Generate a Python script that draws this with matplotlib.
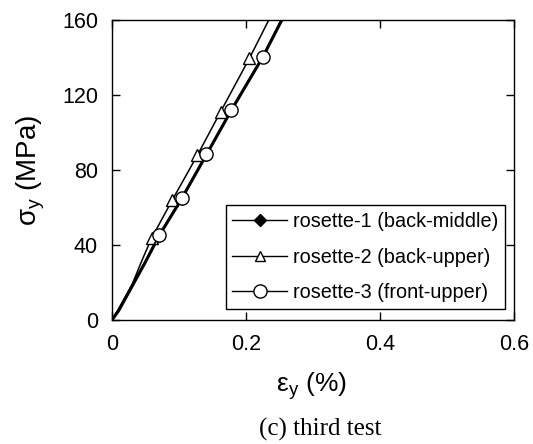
import matplotlib
matplotlib.use("Agg")
import matplotlib.pyplot as plt

plt.rcParams['font.family'] = ['Liberation Sans', 'DejaVu Sans']
plt.rcParams['mathtext.fontset'] = 'custom'
plt.rcParams['mathtext.rm'] = 'Liberation Sans'
plt.rcParams['mathtext.it'] = 'Liberation Sans'

# rosette-1 (back-middle): line data
r1_strain = [0.0, 0.01, 0.03, 0.05, 0.0704, 0.104, 0.141, 0.178, 0.225, 0.2535]
r1_stress = [0.0, 5.0, 18.0, 31.0, 45.0, 64.7, 88.2, 111.8, 140.2, 160.0]
# rosette-1 marker positions (hidden under circles)
r1_mk_strain = [0.0704, 0.104, 0.141, 0.178, 0.225]
r1_mk_stress = [45.0, 64.7, 88.2, 111.8, 140.2]

# rosette-2 (back-upper)
r2_strain = [0.0, 0.01, 0.03, 0.045, 0.059, 0.090, 0.1276, 0.162, 0.205, 0.234]
r2_stress = [0.0, 6.0, 19.0, 32.0, 43.6, 64.0, 88.0, 111.0, 139.5, 160.0]
r2_mk_strain = [0.059, 0.090, 0.1276, 0.162, 0.205]
r2_mk_stress = [43.6, 64.0, 88.0, 111.0, 139.5]

# rosette-3 (front-upper)
r3_strain = [0.0, 0.01, 0.03, 0.05, 0.0704, 0.1038, 0.141, 0.178, 0.225, 0.2526]
r3_stress = [0.0, 5.5, 18.5, 31.5, 45.3, 64.9, 88.4, 112.0, 140.4, 160.0]
r3_mk_strain = [0.0704, 0.1038, 0.141, 0.178, 0.225]
r3_mk_stress = [45.3, 64.9, 88.4, 112.0, 140.4]

x_ticks = [0, 0.2, 0.4, 0.6]
x_ticklabels = ['0', '0.2', '0.4', '0.6']
y_ticks = [0, 40, 80, 120, 160]

W, H = 533, 444
fig = plt.figure(figsize=(W / 100, H / 100), dpi=100)
ax = fig.add_axes([112 / W, 1 - 320 / H, 402 / W, 300 / H])

# rosette-1
ax.plot(r1_strain, r1_stress, color='black', lw=2.2, zorder=2)
ax.plot(r1_mk_strain, r1_mk_stress, ls='none', marker='D', ms=6,
        mfc='black', mec='black', zorder=2)
# rosette-2
ax.plot(r2_strain, r2_stress, color='black', lw=1.1, zorder=3)
ax.plot(r2_mk_strain, r2_mk_stress, ls='none', marker='^', ms=8,
        mfc='white', mec='black', mew=1.0, zorder=3)
# rosette-3
ax.plot(r3_strain, r3_stress, color='black', lw=1.3, zorder=4)
ax.plot(r3_mk_strain, r3_mk_stress, ls='none', marker='o', ms=9.5,
        mfc='white', mec='black', mew=1.0, zorder=4)

# legend handles
h1, = ax.plot([], [], color='black', lw=1.0, marker='D', ms=6, mfc='black', mec='black')
h2, = ax.plot([], [], color='black', lw=1.0, marker='^', ms=7.5, mfc='white', mec='black')
h3, = ax.plot([], [], color='black', lw=1.0, marker='o', ms=9.5, mfc='white', mec='black')
leg = ax.legend([h1, h2, h3],
                ['rosette-1 (back-middle)', 'rosette-2 (back-upper)', 'rosette-3 (front-upper)'],
                loc='lower right', bbox_to_anchor=(505 / W, 1 - 309 / H),
                bbox_transform=fig.transFigure, borderaxespad=0,
                fontsize=14.3, handlelength=2.76, handletextpad=0.3, labelspacing=0.85,
                fancybox=False, framealpha=1, edgecolor='black', borderpad=0.33)
leg.get_frame().set_linewidth(1.0)

ax.set_xlim(0, 0.6)
ax.set_ylim(0, 160)
ax.set_xticks(x_ticks)
ax.set_xticklabels(x_ticklabels)
ax.set_yticks(y_ticks)
ax.tick_params(direction='in', top=True, right=True, length=6, width=1,
               labelsize=15.5, pad=10)
for s in ax.spines.values():
    s.set_linewidth(1.0)

# axis labels
fig.text(31 / W, 1 - 170 / H, r'σ$_{\mathregular{y}}$ (MPa)', rotation=90,
         ha='center', va='center', fontsize=20)
fig.text(311 / W, 1 - 392 / H, r'ε$_{\mathregular{y}}$ (%)', ha='center',
         va='baseline', fontsize=19)

fig.text(320 / W, 1 - 436 / H, '(c) third test', ha='center', va='baseline',
         fontsize=18, family='Liberation Serif')

fig.savefig('out.png', dpi=100)
